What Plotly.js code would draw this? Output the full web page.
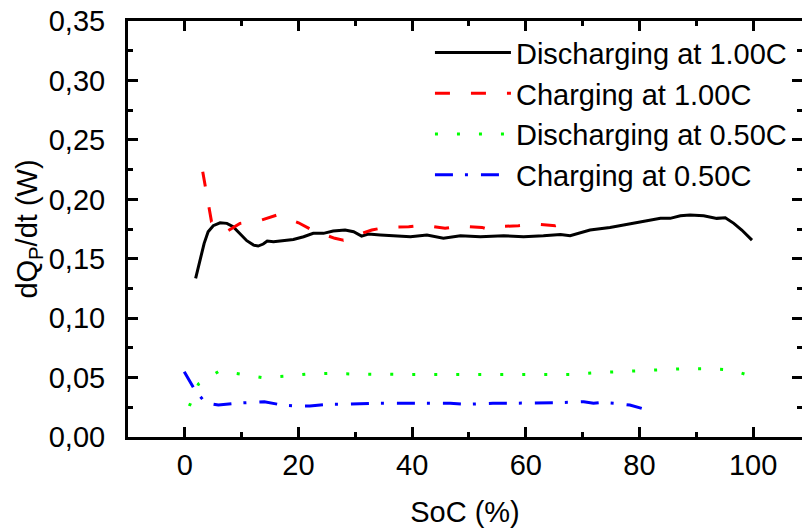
<!DOCTYPE html>
<html>
<head>
<meta charset="utf-8">
<script src="https://cdn.plot.ly/plotly-3.0.1.min.js"></script>
<style>
html, body { margin: 0; padding: 0; overflow: hidden; background: #fff; }
#chart { width: 802px; height: 528px; }
</style>
</head>
<body>
<div id="chart"></div>
<script>
// Series names
var seriesNames = ["Discharging at 1.00C", "Charging at 1.00C", "Discharging at 0.50C", "Charging at 0.50C"];

// Discharging at 1.00C
var dis100X = [1.9, 2.7, 3.4, 4.1, 5.0, 6.2, 7.4, 8.5, 9.7, 10.9, 12.1, 12.9, 13.8, 14.5, 15.6, 16.8, 19.1, 20.9, 22.6, 24.4, 26.1, 28.2, 29.7, 31.1, 32.3, 34.4, 36.1, 39.7, 42.6, 45.5, 48.5, 52.0, 56.1, 59.6, 63.1, 66.1, 67.8, 71.3, 74.8, 77.8, 81.3, 83.7, 85.4, 87.2, 88.9, 91.3, 93.6, 95.1, 96.6, 98.0, 99.8];
var dis100Y = [0.1335, 0.149, 0.163, 0.1727, 0.1778, 0.1803, 0.1798, 0.177, 0.1708, 0.1652, 0.1615, 0.1607, 0.1624, 0.1649, 0.1643, 0.1649, 0.1663, 0.1685, 0.1714, 0.1714, 0.1733, 0.1742, 0.1727, 0.1691, 0.1708, 0.170, 0.1694, 0.1685, 0.170, 0.1672, 0.1694, 0.1685, 0.1694, 0.1685, 0.1694, 0.1705, 0.1694, 0.1742, 0.1764, 0.1789, 0.182, 0.184, 0.184, 0.1862, 0.1868, 0.1862, 0.184, 0.1845, 0.1798, 0.1742, 0.1657];

// Charging at 1.00C
var chg100X = [3.15, 3.85, 4.7, 7.1, 9.7, 13.5, 16.2, 20.0, 22.6, 26.4, 27.9, 29.1, 32.9, 35.2, 39.4, 42.0, 45.8, 48.5, 52.3, 53.4, 54.6, 58.7, 61.4, 65.2, 66.6];
var chg100Y = [0.2232, 0.205, 0.1811, 0.172, 0.1798, 0.1826, 0.1868, 0.1803, 0.1736, 0.1672, 0.1657, 0.168, 0.1742, 0.1764, 0.177, 0.1784, 0.1756, 0.1775, 0.1764, 0.1747, 0.177, 0.1778, 0.1792, 0.1778, 0.1798];

// Discharging at 0.50C
var dis050X = [0.8, 2.4, 6.1, 10.0, 13.8, 17.8, 21.7, 25.7, 29.7, 37.5, 45.2, 53.0, 60.8, 68.6, 72.4, 76.3, 80.3, 84.1, 88.1, 91.9, 95.9, 99.7];
var dis050Y = [0.0261, 0.0446, 0.0556, 0.0527, 0.0499, 0.0513, 0.053, 0.0536, 0.053, 0.0527, 0.0527, 0.0527, 0.0527, 0.0527, 0.0541, 0.055, 0.0558, 0.057, 0.0575, 0.0575, 0.0566, 0.0513];

// Charging at 0.50C
var chg050X = [-0.1, 1.7, 3.6, 5.9, 9.1, 11.5, 14.0, 17.1, 19.5, 22.0, 25.2, 27.6, 30.3, 33.4, 40.0, 46.7, 49.3, 51.7, 54.2, 57.3, 59.7, 62.2, 65.4, 67.7, 70.2, 71.9, 73.4, 75.7, 78.3, 80.4];
var chg050Y = [0.055, 0.0401, 0.0289, 0.0269, 0.0284, 0.0289, 0.0297, 0.0269, 0.0261, 0.0261, 0.0275, 0.0275, 0.0278, 0.0284, 0.0284, 0.0284, 0.0275, 0.028, 0.0284, 0.0284, 0.0284, 0.0284, 0.0289, 0.0292, 0.0297, 0.0284, 0.0292, 0.0284, 0.0269, 0.0241];

// Axis ticks
var xTickVals = [0, 20, 40, 60, 80, 100];
var yTickVals = [0, 0.05, 0.10, 0.15, 0.20, 0.25, 0.30, 0.35];

var FONT = 'Arial, "Liberation Sans", sans-serif';

var traces = [
  {x: dis100X, y: dis100Y, name: seriesNames[0], mode: 'lines', line: {color: '#000000', width: 3, dash: 'solid'}},
  {x: chg100X, y: chg100Y, name: seriesNames[1], mode: 'lines', line: {color: '#FF0000', width: 3, dash: '15px,21px'}},
  {x: dis050X, y: dis050Y, name: seriesNames[2], mode: 'lines', line: {color: '#00FF00', width: 3, dash: '3px,19px'}},
  {x: chg050X, y: chg050Y, name: seriesNames[3], mode: 'lines', line: {color: '#0000FF', width: 3, dash: '18px,12px,3px,13px'}}
];

var axisCommon = {
  showline: true, linecolor: '#000', linewidth: 3, mirror: 'ticks',
  ticks: 'inside', ticklen: 10, tickwidth: 3, tickcolor: '#000',
  showgrid: false, zeroline: false,
  tickfont: {family: FONT, size: 29, color: '#000'}
};

var layout = {
  width: 802, height: 528,
  margin: {l: 128, r: 0, t: 21, b: 91},
  paper_bgcolor: '#fff', plot_bgcolor: '#fff',
  separators: ', ',
  font: {family: FONT, size: 29, color: '#000'},
  showlegend: true,
  legend: {
    x: 0.448, y: 0.985, xanchor: 'left', yanchor: 'top',
    bgcolor: 'rgba(0,0,0,0)', borderwidth: 0,
    font: {family: FONT, size: 29, color: '#000'},
    itemwidth: 76
  },
  xaxis: Object.assign({}, axisCommon, {
    range: [-10, 108.6], tickvals: xTickVals, tickformat: 'd',
    minor: {dtick: 10, tick0: 0, ticks: 'inside', ticklen: 5, tickwidth: 3, tickcolor: '#000'},
    ticklabelstandoff: 0,
    title: {text: 'SoC (%)', font: {family: FONT, size: 29, color: '#000'}, standoff: 22}
  }),
  yaxis: Object.assign({}, axisCommon, {
    range: [0, 0.3501], tickvals: yTickVals, tickformat: '.2f',
    minor: {dtick: 0.025, tick0: 0, ticks: 'inside', ticklen: 5, tickwidth: 3, tickcolor: '#000'},
    ticklabelstandoff: 14,
    title: {text: 'dQ<sub>P</sub>/dt (W)\u00A0\u00A0\u00A0\u00A0', font: {family: FONT, size: 29, color: '#000'}, standoff: 3}
  })
};

Plotly.newPlot('chart', traces, layout, {staticPlot: true, displayModeBar: false});
</script>
</body>
</html>
